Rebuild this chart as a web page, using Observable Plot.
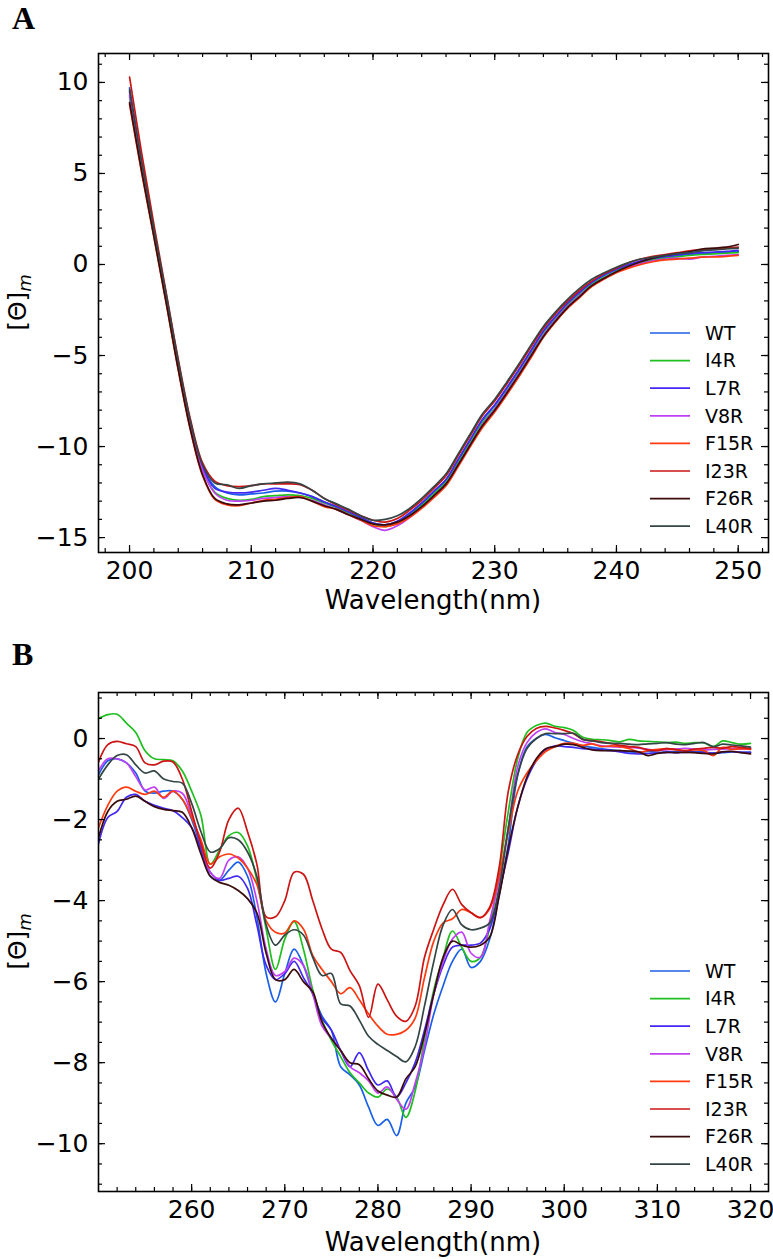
<!DOCTYPE html>
<html>
<head>
<meta charset="utf-8">
<script src="https://cdn.jsdelivr.net/npm/d3@7"></script>
<script src="https://cdn.jsdelivr.net/npm/@observablehq/plot@0.6"></script>
<style>
  body { margin: 0; background: #fff; }
  #wrap { position: relative; width: 773px; height: 1259px; overflow: hidden; font-family: "DejaVu Sans", sans-serif; background: #fff; }
  .panel { position: absolute; left: 0; z-index: 1; }
  .plabel { position: absolute; left: 12px; z-index: 5; font-family: "Liberation Serif", serif; font-weight: bold; font-size: 32px; line-height: normal; }
  .legend { position: absolute; z-index: 5; }
</style>
</head>
<body>
<div id="wrap">
  <div id="panelA" class="panel" style="top:0"></div>
  <div id="panelB" class="panel" style="top:615px"></div>
  <div class="plabel" style="top:0px">A</div>
  <div class="plabel" style="top:636px">B</div>
  <div id="legendA" class="legend" style="left:640px; top:313px"></div>
  <div id="legendB" class="legend" style="left:640px; top:951px"></div>
</div>
<script>
// ---------------- data ----------------
const seriesNames = ["WT", "I4R", "L7R", "V8R", "F15R", "I23R", "F26R", "L40R"];
const seriesColors = ["#1a5fe8", "#1fbf1f", "#4128f2", "#c03ff5", "#ff3a0f", "#cc1414", "#3b0b0b", "#344545"];

// Panel A: far-UV CD, 200-250 nm, 1 nm steps
const wavelengthA = d3.range(200, 251, 1);
const A_WT = [9.7, 5.6, 1.9, -1.7, -5.4, -8.7, -11.1, -12.2, -12.55, -12.65,
  -12.6, -12.55, -12.45, -12.45, -12.55, -12.75, -13.05, -13.3, -13.6, -13.9,
  -14.2, -14.3, -14.1, -13.7, -13.15, -12.5, -11.85, -10.75, -9.65, -8.55,
  -7.75, -6.8, -5.8, -4.75, -3.7, -2.9, -2.15, -1.55, -1.0, -0.6,
  -0.3, -0.05, 0.15, 0.3, 0.4, 0.48, 0.55, 0.6, 0.62, 0.68,
  0.72];
const A_I4R = [9.2, 5.3, 1.7, -1.9, -5.6, -8.9, -11.3, -12.5, -12.85, -12.95,
  -12.9, -12.75, -12.7, -12.65, -12.7, -12.85, -13.1, -13.35, -13.65, -13.95,
  -14.25, -14.4, -14.2, -13.8, -13.25, -12.6, -11.95, -10.9, -9.8, -8.7,
  -7.9, -6.95, -5.95, -4.9, -3.85, -3.0, -2.25, -1.65, -1.1, -0.7,
  -0.38, -0.1, 0.1, 0.25, 0.35, 0.42, 0.5, 0.55, 0.58, 0.62,
  0.65];
const A_L7R = [9.5, 5.5, 1.85, -1.75, -5.45, -8.75, -11.15, -12.3, -12.5, -12.55,
  -12.5, -12.4, -12.3, -12.4, -12.55, -12.75, -13.05, -13.3, -13.6, -13.9,
  -14.2, -14.3, -14.1, -13.65, -13.1, -12.45, -11.8, -10.7, -9.6, -8.5,
  -7.7, -6.75, -5.75, -4.7, -3.65, -2.85, -2.1, -1.5, -0.95, -0.55,
  -0.25, 0.0, 0.2, 0.35, 0.45, 0.52, 0.6, 0.65, 0.68, 0.72,
  0.78];
const A_V8R = [9.3, 5.4, 1.8, -1.85, -5.55, -8.85, -11.3, -12.55, -12.95, -13.0,
  -12.95, -12.85, -12.8, -12.75, -12.8, -12.95, -13.2, -13.45, -13.75, -14.05,
  -14.4, -14.6, -14.35, -13.9, -13.35, -12.7, -12.05, -11.0, -9.9, -8.8,
  -7.95, -7.0, -6.0, -4.95, -3.9, -3.05, -2.3, -1.7, -1.15, -0.75,
  -0.42, -0.15, 0.05, 0.2, 0.3, 0.35, 0.3, 0.4, 0.45, 0.5,
  0.55];
const A_F15R = [8.8, 5.0, 1.5, -2.1, -5.8, -9.1, -11.6, -12.9, -13.2, -13.25,
  -13.1, -12.95, -12.9, -12.8, -12.75, -13.0, -13.3, -13.45, -13.75, -14.05,
  -14.35, -14.4, -14.25, -13.9, -13.4, -12.8, -12.15, -11.1, -10.0, -8.95,
  -8.1, -7.15, -6.15, -5.1, -4.0, -3.15, -2.4, -1.8, -1.2, -0.8,
  -0.45, -0.2, 0.0, 0.15, 0.25, 0.3, 0.35, 0.4, 0.42, 0.45,
  0.5];
const A_I23R = [10.3, 6.1, 2.2, -1.5, -5.2, -8.5, -10.9, -11.9, -12.15, -12.2,
  -12.15, -12.05, -12.05, -12.05, -12.1, -12.4, -12.85, -13.2, -13.5, -13.8,
  -14.05, -14.15, -13.95, -13.5, -12.95, -12.3, -11.6, -10.5, -9.4, -8.3,
  -7.5, -6.55, -5.55, -4.5, -3.5, -2.7, -2.0, -1.4, -0.9, -0.5,
  -0.2, 0.1, 0.3, 0.45, 0.55, 0.65, 0.75, 0.8, 0.85, 0.9,
  0.95];
const A_F26R = [8.9, 5.1, 1.55, -2.05, -5.75, -9.05, -11.55, -12.85, -13.15, -13.2,
  -13.1, -13.0, -12.95, -12.85, -12.8, -13.0, -13.25, -13.45, -13.75, -14.0,
  -14.25, -14.3, -14.15, -13.8, -13.3, -12.7, -12.05, -11.0, -9.9, -8.85,
  -8.0, -7.05, -6.05, -5.0, -3.95, -3.1, -2.35, -1.75, -1.15, -0.75,
  -0.4, -0.1, 0.15, 0.35, 0.5, 0.6, 0.7, 0.85, 0.9, 0.95,
  1.1];
const A_L40R = [9.6, 5.6, 1.95, -1.6, -5.3, -8.6, -11.0, -12.0, -12.1, -12.3,
  -12.15, -12.05, -12.0, -11.95, -12.05, -12.4, -12.85, -13.15, -13.45, -13.8,
  -14.05, -14.0, -13.8, -13.4, -12.85, -12.2, -11.5, -10.4, -9.3, -8.2,
  -7.4, -6.45, -5.45, -4.4, -3.4, -2.6, -1.9, -1.3, -0.8, -0.45,
  -0.15, 0.1, 0.3, 0.4, 0.5, 0.6, 0.65, 0.75, 0.8, 0.85,
  0.9];

// Panel B: near-UV CD, 250-320 nm, 1 nm steps
const wavelengthB = d3.range(250, 321, 1);
const B_WT = [-0.9, -0.55, -0.5, -0.6, -0.85, -1.3, -1.35, -1.3, -1.3, -1.5,
  -2.0, -2.7, -3.4, -3.5, -3.25, -3.05, -3.4, -4.4, -5.8, -6.5,
  -5.8, -5.2, -5.6, -6.3, -6.85, -7.2, -8.1, -8.3, -8.55, -9.1,
  -9.55, -9.4, -9.8, -9.0, -8.6, -7.7, -6.8, -6.1, -5.5, -5.2,
  -5.65, -5.5, -4.95, -3.9, -2.6, -0.9, -0.21, 0.0, 0.1, 0.02,
  -0.05, -0.12, -0.18, -0.22, -0.25, -0.28, -0.3, -0.33, -0.34, -0.32,
  -0.34, -0.33, -0.32, -0.33, -0.32, -0.33, -0.36, -0.35, -0.33, -0.34,
  -0.34];
const B_I4R = [0.49, 0.59, 0.6, 0.38, 0.15, -0.3, -0.5, -0.52, -0.55, -0.8,
  -1.3, -1.9, -3.1, -2.75, -2.4, -2.32, -2.65, -3.5, -4.7, -5.7,
  -4.95, -4.52, -5.2, -6.2, -6.95, -7.45, -7.85, -8.25, -8.5, -8.75,
  -8.85, -8.65, -8.85, -9.35, -8.7, -7.4, -6.2, -5.4, -4.75, -5.15,
  -5.5, -5.4, -4.65, -3.3, -1.8, -0.5, 0.15, 0.32, 0.38, 0.3,
  0.27, 0.2, 0.03, -0.02, -0.03, -0.05, -0.08, -0.02, -0.06, -0.07,
  -0.08, -0.1, -0.09, -0.12, -0.1, -0.11, -0.2, -0.06, -0.1, -0.14,
  -0.12];
const B_L7R = [-2.6, -1.95, -1.8, -1.45, -1.38, -1.55, -1.65, -1.72, -1.78, -1.95,
  -2.2, -2.75, -3.3, -3.5, -3.45, -3.4, -3.7, -4.6, -5.6, -5.95,
  -5.8, -5.5, -5.9, -6.3, -6.9, -7.2, -7.7, -8.1, -7.75, -8.2,
  -8.55, -8.45, -8.85, -8.5, -8.0, -7.2, -6.3, -5.6, -5.15, -5.1,
  -5.1, -5.05, -4.7, -3.8, -2.8, -1.7, -1.0, -0.55, -0.28, -0.18,
  -0.2, -0.22, -0.25, -0.26, -0.28, -0.3, -0.33, -0.37, -0.38, -0.37,
  -0.36, -0.34, -0.35, -0.34, -0.34, -0.35, -0.36, -0.33, -0.32, -0.34,
  -0.34];
const B_V8R = [-0.8, -0.5, -0.5, -0.6, -0.94, -1.27, -1.2, -1.48, -1.3, -1.35,
  -1.9, -2.6, -3.3, -3.45, -3.0, -2.92, -3.2, -4.0, -5.2, -5.85,
  -5.75, -5.42, -5.6, -6.3, -7.1, -7.4, -7.7, -8.1, -8.25, -8.45,
  -8.75, -8.6, -8.9, -9.15, -8.5, -7.6, -6.3, -5.5, -4.95, -4.78,
  -5.3, -5.4, -4.5, -3.5, -2.2, -0.7, -0.1, 0.15, 0.24, 0.15,
  0.1, 0.0, -0.08, -0.13, -0.18, -0.2, -0.21, -0.22, -0.24, -0.27,
  -0.29, -0.28, -0.26, -0.24, -0.26, -0.28, -0.27, -0.26, -0.25, -0.26,
  -0.25];
const B_F15R = [-2.2, -1.65, -1.3, -1.2, -1.3, -1.38, -1.3, -1.45, -1.3, -1.5,
  -1.95, -2.5, -3.1, -2.92, -2.85, -2.95, -3.2, -3.6, -4.5, -4.78,
  -4.8, -4.5, -4.7, -5.35, -5.7, -6.0, -6.3, -6.15, -6.45, -6.8,
  -7.1, -7.3, -7.3, -7.2, -6.9, -5.9, -5.0, -4.55, -4.45, -4.22,
  -4.3, -4.42, -4.2, -3.4, -2.3, -1.3, -0.85, -0.55, -0.32, -0.2,
  -0.12, -0.12, -0.17, -0.13, -0.2, -0.18, -0.2, -0.25, -0.34, -0.3,
  -0.27, -0.25, -0.28, -0.3, -0.28, -0.3, -0.42, -0.22, -0.27, -0.25,
  -0.27];
const B_I23R = [-0.58, -0.15, -0.07, -0.13, -0.2, -0.6, -0.65, -0.56, -0.58, -1.0,
  -1.8, -2.6, -3.2, -2.8, -2.0, -1.72, -2.3, -3.1, -4.4, -4.4,
  -4.0, -3.3, -3.35, -4.0, -4.7, -5.2, -5.28, -5.73, -6.1, -6.88,
  -6.06, -6.45, -6.85, -6.98, -6.6, -5.4, -4.7, -4.1, -3.72, -4.1,
  -4.3, -4.42, -4.16, -3.2, -1.3, -0.4, 0.05, 0.25, 0.3, 0.26,
  0.2, 0.12, -0.02, -0.05, -0.08, -0.12, -0.17, -0.2, -0.22, -0.28,
  -0.3, -0.25, -0.27, -0.3, -0.26, -0.24, -0.22, -0.24, -0.2, -0.22,
  -0.25];
const B_F26R = [-2.45, -1.8, -1.55, -1.5, -1.42, -1.55, -1.68, -1.75, -1.78, -1.82,
  -2.2, -2.85, -3.4, -3.55, -3.62, -3.75, -3.95, -4.3, -5.3, -5.95,
  -5.95, -5.7, -6.0, -6.25, -7.0, -7.4, -7.7, -8.0, -8.05, -8.4,
  -8.7, -8.8, -8.85, -8.4, -8.1, -7.3, -6.3, -5.4, -5.0, -5.1,
  -5.15, -5.1, -4.9, -3.9, -2.7, -1.7, -0.95, -0.5, -0.25, -0.2,
  -0.14, -0.15, -0.22, -0.28, -0.3, -0.3, -0.3, -0.31, -0.33, -0.42,
  -0.37, -0.34, -0.35, -0.34, -0.35, -0.37, -0.38, -0.33, -0.32, -0.35,
  -0.38];
const B_L40R = [-1.0, -0.65, -0.42, -0.4, -0.65, -0.85, -0.8, -1.0, -1.06, -1.1,
  -1.6, -2.3, -2.8, -2.72, -2.45, -2.5, -2.8, -3.4, -4.6, -5.1,
  -4.85, -4.72, -4.85, -5.4, -5.85, -5.8, -6.55, -6.6, -6.95, -7.35,
  -7.55, -7.7, -7.85, -7.98, -7.6, -6.6, -5.5, -4.6, -4.22, -4.6,
  -4.72, -4.68, -4.55, -3.7, -2.2, -0.9, -0.25, 0.0, 0.12, 0.12,
  0.12, 0.13, -0.02, -0.06, -0.1, -0.12, -0.12, -0.14, -0.15, -0.13,
  -0.12, -0.1, -0.14, -0.15, -0.12, -0.1, -0.2, -0.14, -0.16, -0.18,
  -0.21];

// tick values
const xMajorA = [200, 210, 220, 230, 240, 250];
const xMinorA = d3.range(198, 253, 2);
const yMajorA = [-15, -10, -5, 0, 5, 10];
const yMinorA = d3.range(-15, 12, 1);
const xMajorB = [260, 270, 280, 290, 300, 310, 320];
const xMinorB = d3.range(252, 321, 2);
const yMajorB = [-10, -8, -6, -4, -2, 0];
const yMinorB = d3.range(-11, 1.01, 0.5);

// ---------------- drawing ----------------
function tidy(xs, seriesArrays) {
  const rows = [];
  seriesArrays.forEach((vals, si) => {
    vals.forEach((v, i) => rows.push({ x: xs[i], y: v, series: seriesNames[si] }));
  });
  return rows;
}

function panel(cfg) {
  const W = 773, mL = 98, mR = 5, mB = 60;
  const innerH = cfg.height - cfg.marginTop - mB;
  const innerW = W - mL - mR;
  const tk = { stroke: "black", strokeWidth: 1.2 };
  const chart = Plot.plot({
    width: W,
    height: cfg.height,
    marginLeft: mL,
    marginRight: mR,
    marginTop: cfg.marginTop,
    marginBottom: mB,
    style: { fontFamily: "DejaVu Sans", fontSize: "25px", color: "black", background: "white", overflow: "visible" },
    x: { domain: cfg.xDomain, ticks: cfg.xMajor, tickSize: 0, tickPadding: 9, label: null },
    y: { domain: cfg.yDomain, ticks: cfg.yMajor, tickSize: 0, tickPadding: 10, label: null },
    color: { domain: seriesNames, range: seriesColors },
    marks: [
      Plot.line(cfg.data, { x: "x", y: "y", z: "series", stroke: "series", strokeWidth: 1.7, curve: "catmull-rom", clip: true }),
      // inward ticks, bottom/top
      Plot.ruleX(cfg.xMajor, { x: d => d, insetTop: innerH - 7, ...tk }),
      Plot.ruleX(cfg.xMajor, { x: d => d, insetBottom: innerH - 7, ...tk }),
      Plot.ruleX(cfg.xMinor, { x: d => d, insetTop: innerH - 4, ...tk }),
      Plot.ruleX(cfg.xMinor, { x: d => d, insetBottom: innerH - 4, ...tk }),
      // inward ticks, left/right
      Plot.ruleY(cfg.yMajor, { y: d => d, insetRight: innerW - 7, ...tk }),
      Plot.ruleY(cfg.yMajor, { y: d => d, insetLeft: innerW - 7, ...tk }),
      Plot.ruleY(cfg.yMinor, { y: d => d, insetRight: innerW - 4, ...tk }),
      Plot.ruleY(cfg.yMinor, { y: d => d, insetLeft: innerW - 4, ...tk }),
      Plot.frame({ stroke: "black", strokeWidth: 1.6 })
    ]
  });
  const svg = d3.select(chart);
  const cy = cfg.marginTop + innerH / 2;
  const yl = svg.append("text")
    .attr("transform", `translate(26, ${cy}) rotate(-90)`)
    .attr("text-anchor", "middle")
    .attr("font-family", "DejaVu Sans")
    .attr("font-size", 25)
    .attr("fill", "black");
  yl.append("tspan").text("[Θ]");
  yl.append("tspan").attr("font-style", "italic").attr("font-size", 18).attr("dy", "0.3em").text("m");
  svg.append("text")
    .attr("x", mL + innerW / 2)
    .attr("y", cfg.height - mB + cfg.xLabelDy)
    .attr("text-anchor", "middle")
    .attr("font-family", "DejaVu Sans")
    .attr("font-size", 26)
    .attr("fill", "black")
    .text("Wavelength(nm)");
  return chart;
}

function legend(el) {
  const rowH = 27.6;
  const svg = d3.select(el).append("svg")
    .attr("width", 130)
    .attr("height", 40 + rowH * 7)
    .style("display", "block")
    .style("overflow", "visible");
  seriesNames.forEach((name, i) => {
    const y = 20 + i * rowH;
    svg.append("line")
      .attr("x1", 10).attr("x2", 50)
      .attr("y1", y).attr("y2", y)
      .attr("stroke", seriesColors[i])
      .attr("stroke-width", 1.7);
    svg.append("text")
      .attr("x", 65).attr("y", y)
      .attr("dy", "0.36em")
      .attr("font-family", "DejaVu Sans")
      .attr("font-size", 19)
      .attr("fill", "black")
      .text(name);
  });
}

const dataA = tidy(wavelengthA, [A_WT, A_I4R, A_L7R, A_V8R, A_F15R, A_I23R, A_F26R, A_L40R]);
const dataB = tidy(wavelengthB, [B_WT, B_I4R, B_L7R, B_V8R, B_F15R, B_I23R, B_F26R, B_L40R]);

document.getElementById("panelA").appendChild(panel({
  data: dataA, height: 612, marginTop: 53,
  xDomain: [197.45, 252.49], yDomain: [-15.82, 11.59],
  xMajor: xMajorA, xMinor: xMinorA, yMajor: yMajorA, yMinor: yMinorA,
  xLabelDy: 57
}));
document.getElementById("panelB").appendChild(panel({
  data: dataB, height: 636, marginTop: 77,
  xDomain: [250, 321.93], yDomain: [-11.18, 1.136],
  xMajor: xMajorB, xMinor: xMinorB, yMajor: yMajorB, yMinor: yMinorB,
  xLabelDy: 60
}));
legend(document.getElementById("legendA"));
legend(document.getElementById("legendB"));
</script>
</body>
</html>
